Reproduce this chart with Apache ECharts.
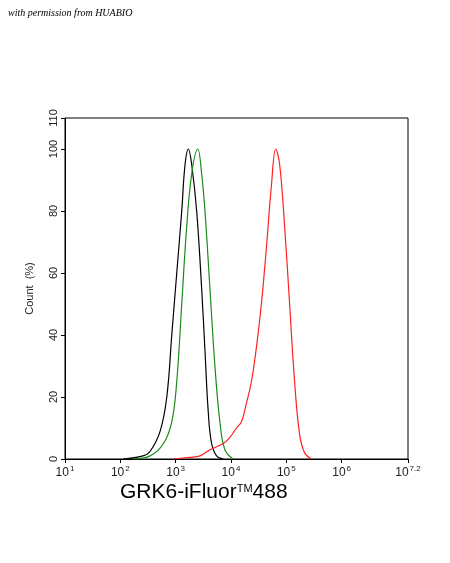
<!DOCTYPE html>
<html><head><meta charset="utf-8">
<script src="https://cdn.jsdelivr.net/npm/echarts@6/dist/echarts.min.js"></script>
<style>html,body{margin:0;padding:0;background:#fff}#c{width:450px;height:563px}</style>
</head><body><div id="c"></div>
<script>
// x values are log10 of fluorescence intensity
const blackX = [2.05,2.41,2.54,2.72,2.84,2.93,3.02,3.11,3.17,3.23,3.29,3.38,3.47,3.53,3.59,3.65,3.74,3.86];
const blackY = [0,1,2.5,9,20,40,60,80,95,100,95,80,55,35,15,5,1,0];
const greenX = [2.23,2.54,2.78,2.93,3.02,3.11,3.20,3.29,3.40,3.47,3.53,3.62,3.71,3.80,3.89,4.04];
const greenY = [0,1,5,12,25,50,75,92,100,92,80,55,30,12,3,0];
const redX = [2.96,3.26,3.44,3.62,3.86,3.98,4.10,4.19,4.28,4.37,4.46,4.55,4.64,4.73,4.81,4.88,4.97,5.06,5.15,5.24,5.33,5.45];
const redY = [0,0.5,1,3,5,7,10,12,18,25,36,50,68,88,100,95,75,50,25,8,2,0];
const xTicks = [1,2,3,4,5,6,7.2];
const yTicks = [0,20,40,60,80,100,110];
const zip=(a,b)=>a.map((v,i)=>[v,b[i]]);
const chart = echarts.init(document.getElementById('c'));
const ser=(x,y,c)=>({type:'line',data:zip(x,y),smooth:0.4,symbol:'none',lineStyle:{color:c,width:1.2}});
chart.setOption({
  animation:false,
  grid:{left:65,right:42,top:118,bottom:104},
  xAxis:{type:'value',min:1,max:7.2,
    axisLine:{lineStyle:{color:'#000'}},
    axisTick:{show:true,customValues:xTicks,inside:false,length:4,lineStyle:{color:'#000'}},
    splitLine:{show:false},
    axisLabel:{customValues:xTicks,color:'#000',margin:6,
      formatter:v=>'{b|10}{s|'+(Math.round(v*10)/10)+'}',
      rich:{b:{fontSize:12,fontFamily:'Liberation Sans',color:'#222'},s:{fontSize:8,fontFamily:'Liberation Sans',color:'#222',padding:[0,0,8,1]}}}},
  yAxis:{type:'value',min:0,max:110,
    axisLine:{show:true,lineStyle:{color:'#000'}},
    axisTick:{show:true,customValues:yTicks,length:4,lineStyle:{color:'#000'}},
    splitLine:{show:false},
    axisLabel:{customValues:yTicks,rotate:90,color:'#222',fontSize:11,fontFamily:'Liberation Sans',margin:6},
    name:'Count  (%)',nameLocation:'middle',nameGap:30,nameRotate:90,
    nameTextStyle:{fontSize:11,fontFamily:'Liberation Sans',color:'#222'}},
  graphic:[
    {type:'rect',shape:{x:65,y:118,width:343,height:341},style:{fill:'none',stroke:'#000',lineWidth:1},silent:true},
    {type:'text',left:8,top:8,style:{text:'with permission from HUABIO',font:'italic 10px "Liberation Serif"',fill:'#000'}},
    {type:'text',left:120,top:482,style:{text:'{a|GRK6-iFluor}{s|TM}{a|488}',
      rich:{a:{fontSize:21,fontFamily:'Liberation Sans',fill:'#000'},s:{fontSize:11,fontFamily:'Liberation Sans',fill:'#000',padding:[0,0,8,0]}}}}
  ],
  series:[ser(blackX,blackY,'#000'),ser(greenX,greenY,'#1a8a1a'),ser(redX,redY,'#ff2020')]
});
</script></body></html>
